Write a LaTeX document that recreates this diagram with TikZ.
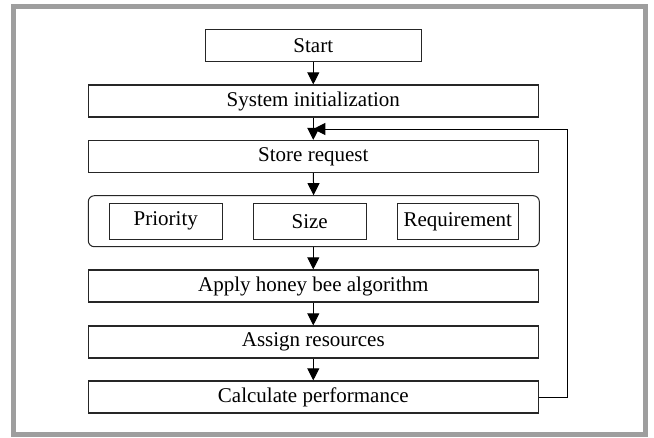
\documentclass[tikz,border=0pt]{standalone}
\usepackage{fontspec}
\setmainfont{Liberation Serif}
\usetikzlibrary{arrows.meta}
\definecolor{framegray}{HTML}{9E9E9E}
\tikzstyle{stage} = [rectangle, 
minimum width=450pt, 
minimum height=32pt,
text centered, 
inner sep=0pt,
line width=1.3pt,
draw=black!85, 
fill=white]
\tikzstyle{attr} = [rectangle, 
minimum width=113pt, 
minimum height=36pt, 
text centered,  
inner sep=0pt,
line width=1.3pt,
draw=black!85]
\tikzstyle{flow} = [line width=1pt, -{Triangle[width=12pt,length=12pt]}]

\begin{document}
\begin{tikzpicture}[x=1pt, y=-1pt, font=\fontsize{21}{25}\selectfont]
\useasboundingbox (0,0) rectangle (654,437);
\draw[framegray, line width=5pt] (13.5,6.5) rectangle (645.5,434.5);

\node (start) [stage, minimum width=216pt] at (313.3,45.5) {Start};
\node (init) [stage] at (313.3,101) {System initialization};
\draw[flow] (start) -- (init);
\node (store) [stage] at (313.3,156.5) {Store request};
\draw[flow] (init) -- (store);

\node (group) [stage, minimum width=451pt, minimum height=51pt, rounded corners=6pt, line width=1pt] at (313.8,221.2) {};
\node (prio) [attr] at (165.8,221.3) {Priority};
\node (size) [attr] at (309.7,221.3) {Size};
\node (req) [attr, minimum width=121pt] at (457.8,221.3) {Requirement};
\draw[flow] (store) -- (group);

\node (apply) [stage] at (313.3,286) {Apply honey bee algorithm};
\draw[flow] (group.south -| apply) -- (apply);
\node (assign) [stage] at (313.3,342) {Assign resources};
\draw[flow] (apply) -- (assign);
\node (calc) [stage] at (313.3,397) {Calculate performance};
\draw[flow] (assign) -- (calc);

% loop back to the request store
\coordinate (back) at (313.3,129);
\draw[flow] (calc.east) -- ++(29,0) |- (back);

\end{tikzpicture}
\end{document}
